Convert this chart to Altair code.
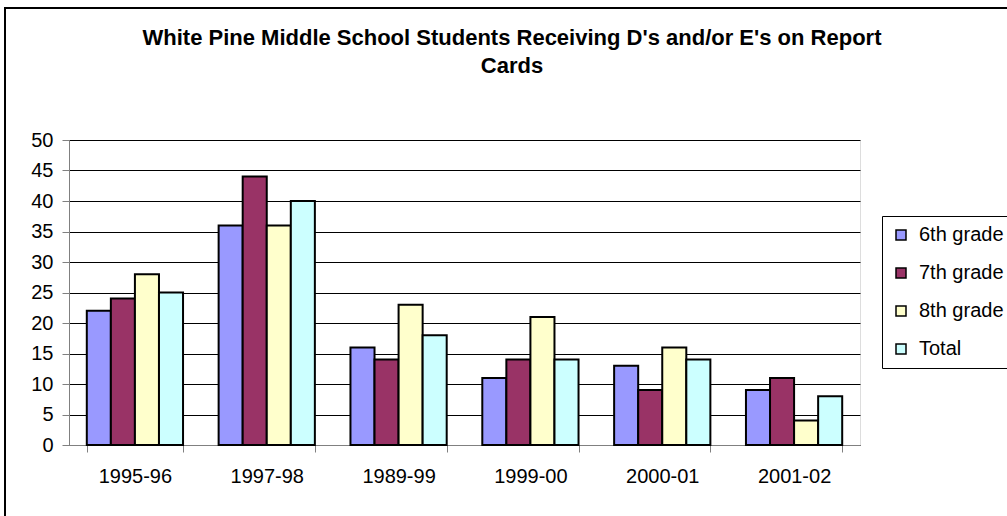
import altair as alt
import pandas as pd

years = ["1995-96", "1997-98", "1989-99", "1999-00", "2000-01", "2001-02"]
series = ["6th grade", "7th grade", "8th grade", "Total"]
grade6 = [22, 36, 16, 11, 13, 9]
grade7 = [24, 44, 14, 14, 9, 11]
grade8 = [28, 36, 23, 21, 16, 4]
total = [25, 40, 18, 14, 14, 8]
colors = ["#9999FF", "#993366", "#FFFFCC", "#CCFFFF"]
title_lines = ["White Pine Middle School Students Receiving D's and/or E's on Report", "Cards"]

rows = []
for name, vals in zip(series, [grade6, grade7, grade8, total]):
    for y, v in zip(years, vals):
        rows.append({"Year": y, "Series": name, "Value": v})
df = pd.DataFrame(rows)

FONT = "Liberation Sans"

bars = alt.Chart(df).mark_bar(stroke="black", strokeWidth=2).encode(
    x=alt.X("Year:N", sort=years, title=None,
            scale=alt.Scale(paddingInner=0.27, paddingOuter=0.135),
            axis=alt.Axis(labelAngle=0, tickBand="extent", tickSize=7,
                          tickColor="#808080", domainColor="#808080",
                          labelFont=FONT, labelFontSize=20, labelColor="black",
                          labelPadding=14, grid=False)),
    xOffset=alt.XOffset("Series:N", sort=series, scale=alt.Scale(paddingInner=0)),
    y=alt.Y("Value:Q", title=None,
            scale=alt.Scale(domain=[0, 50]),
            axis=alt.Axis(values=list(range(0, 51, 5)), tickSize=7,
                          tickColor="#808080", domainColor="#808080",
                          gridColor="black", gridWidth=1, grid=True,
                          labelFont=FONT, labelFontSize=20, labelColor="black",
                          labelPadding=9)),
    color=alt.Color("Series:N", sort=series,
                    scale=alt.Scale(domain=series, range=colors),
                    legend=alt.Legend(title=None, orient="none",
                                      legendX=813, legendY=76,
                                      strokeColor="black", padding=9,
                                      symbolType="square", symbolSize=100,
                                      symbolStrokeColor="black", symbolStrokeWidth=1.5,
                                      labelFont=FONT, labelFontSize=20,
                                      labelColor="black", rowPadding=18,
                                      labelOffset=8)),
)

frame = alt.Chart(pd.DataFrame({"a": [0]})).mark_rect(
    fillOpacity=0, stroke="black", strokeWidth=2, clip=False
).encode(
    x=alt.value(5 - 69), x2=alt.value(1100), y=alt.value(8 - 140), y2=alt.value(600)
)

title = alt.Chart(pd.DataFrame({"a": [0]})).mark_text(
    font=FONT, fontSize=22, fontWeight="bold", color="black",
    align="center", baseline="top", lineHeight=28,
).encode(
    x=alt.value(512 - 69), y=alt.value(28 - 140), text=alt.value(title_lines)
)

chart = alt.layer(frame, bars, title).properties(
    width=791, height=305,
    padding={"left": 69, "top": 140, "right": 147, "bottom": 71},
    autosize=alt.AutoSizeParams(type="none"),
).configure_view(fill="#C0C0C0", stroke="#808080").configure(background="white")

chart.save("out.html", embed_options={"renderer": "svg", "actions": False})
